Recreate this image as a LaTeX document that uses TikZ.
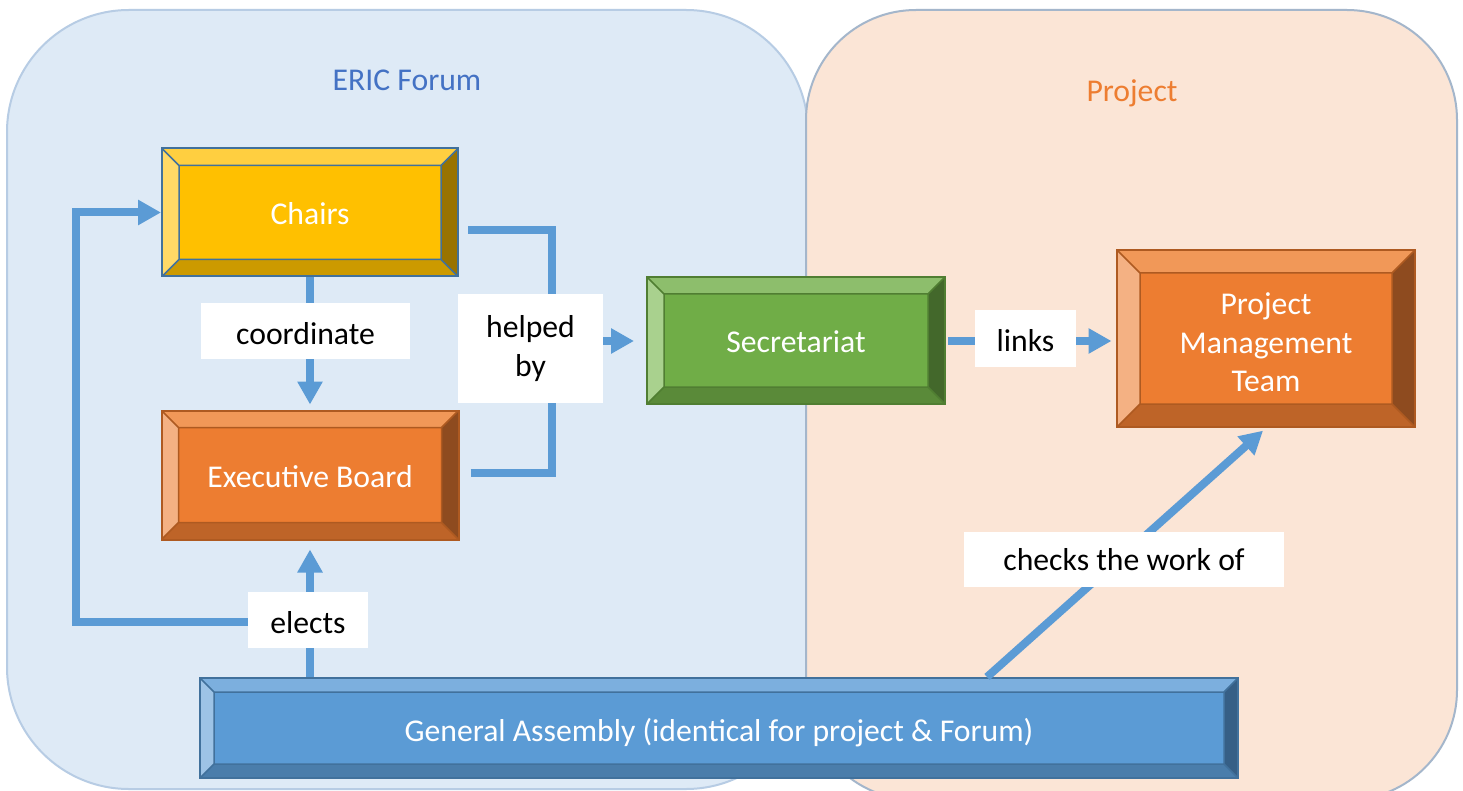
\documentclass[tikz,border=0pt]{standalone}
\usepackage{fontspec}
\setmainfont{Carlito}
\usetikzlibrary{arrows.meta,calc}
\newcommand{\lowr}[2]{\raisebox{-#1}[\height][\depth]{#2}}
\definecolor{forumfill}{HTML}{DEEAF6}
\definecolor{forumline}{HTML}{B7CCE4}
\definecolor{projfill}{HTML}{FBE5D6}
\definecolor{projline}{HTML}{A4B6CB}
\definecolor{ericblue}{HTML}{4472C4}
\definecolor{projorange}{HTML}{ED7D31}
\definecolor{connblue}{HTML}{5B9BD5}
% chairs (gold)
\definecolor{goMain}{HTML}{FFC000}
\definecolor{goTop}{HTML}{FFCF40}
\definecolor{goLeft}{HTML}{FFD966}
\definecolor{goBot}{HTML}{CC9A00}
\definecolor{goRight}{HTML}{997300}
\definecolor{goLine}{HTML}{41719C}
% orange
\definecolor{orMain}{HTML}{ED7D31}
\definecolor{orTop}{HTML}{F19858}
\definecolor{orLeft}{HTML}{F4B183}
\definecolor{orBot}{HTML}{BE6428}
\definecolor{orRight}{HTML}{8E4B1F}
\definecolor{orLine}{HTML}{AE5A21}
% green
\definecolor{grMain}{HTML}{70AD47}
\definecolor{grTop}{HTML}{8DBE6C}
\definecolor{grLeft}{HTML}{A9D18E}
\definecolor{grBot}{HTML}{5A8A39}
\definecolor{grRight}{HTML}{43682B}
\definecolor{grLine}{HTML}{507E32}
% blue
\definecolor{blMain}{HTML}{5B9BD5}
\definecolor{blTop}{HTML}{7CAFDE}
\definecolor{blLeft}{HTML}{9DC3E6}
\definecolor{blBot}{HTML}{4A7DAB}
\definecolor{blRight}{HTML}{365F86}
\definecolor{blLine}{HTML}{41719C}
\tikzset{
  bevelbox/.style n args={7}{% 1 bevel, 2 top, 3 left, 4 bottom, 5 right, 6 main, 7 border
    rectangle, fill=#6, draw=#7, line width=2pt, inner sep=0pt,
    text=white,
    path picture={
      \path (path picture bounding box.north west) coordinate (bvA)
            (path picture bounding box.north east) coordinate (bvB)
            (path picture bounding box.south east) coordinate (bvC)
            (path picture bounding box.south west) coordinate (bvD);
      \path (bvA) ++(#1pt,-#1pt) coordinate (bva)
            (bvB) ++(-#1pt,-#1pt) coordinate (bvb)
            (bvC) ++(-#1pt,#1pt) coordinate (bvc)
            (bvD) ++(#1pt,#1pt) coordinate (bvd);
      \fill[#2] (bvA)--(bvB)--(bvb)--(bva)--cycle;
      \fill[#3] (bvA)--(bva)--(bvd)--(bvD)--cycle;
      \fill[#4] (bvD)--(bvd)--(bvc)--(bvC)--cycle;
      \fill[#5] (bvB)--(bvC)--(bvc)--(bvb)--cycle;
      \draw[#7, line width=1.5pt] (bva)--(bvb)--(bvc)--(bvd)--cycle
            (bvA)--(bva) (bvB)--(bvb) (bvC)--(bvc) (bvD)--(bvd);
    }
  },
  conn/.style={draw=connblue, line width=8pt},
  arrowtip/.style={-{Triangle[length=23pt,width=24pt]}},
  lbl/.style={fill=white, text=black, inner sep=0pt},
}
\begin{document}
\begin{tikzpicture}[x=1pt,y=-1pt,font=\fontsize{31.7}{38.5}\selectfont]
\useasboundingbox (0,0) rectangle (1463,791);
\fill[white] (0,0) rectangle (1463,791);
% regions
\draw[line width=2pt, draw=forumline, fill=forumfill, rounded corners=122pt] (7,10) rectangle (808,789);
\draw[line width=2pt, draw=projline, fill=projfill, rounded corners=110pt] (806,10) rectangle (1457,800);
\node[text=ericblue] (forumtitle) at (407,80) {ERIC Forum};
\node[text=projorange] (projtitle) at (1132,92) {\lowr{1.5pt}{Project}};
% boxes
\node[bevelbox={17}{goTop}{goLeft}{goBot}{goRight}{goMain}{goLine}, minimum width=296pt, minimum height=128pt] (chairs) at (310,212.5) {\lowr{1.5pt}{Chairs}};
\node[bevelbox={17}{orTop}{orLeft}{orBot}{orRight}{orMain}{orLine}, minimum width=297pt, minimum height=129pt] (eb) at (310,475) {\lowr{2pt}{Executive Board}};
\node[bevelbox={17}{grTop}{grLeft}{grBot}{grRight}{grMain}{grLine}, minimum width=298pt, minimum height=127pt] (sec) at (796,340.5) {\lowr{1.5pt}{Secretariat}};
\node[bevelbox={23}{orTop}{orLeft}{orBot}{orRight}{orMain}{orLine}, minimum width=298pt, minimum height=177pt] (pmt) at (1266,338.5) {\lowr{7pt}{\begin{tabular}{@{}c@{}}Project\\Management\\Team\end{tabular}}};
\node[bevelbox={14}{blTop}{blLeft}{blBot}{blRight}{blMain}{blLine}, minimum width=1038pt, minimum height=100pt] (ga) at (719,728) {\lowr{5pt}{General Assembly (identical for project \& Forum)}};
% connectors
\draw[conn, arrowtip, shorten >=5pt] (chairs.south) -- (eb.north);
\draw[conn, arrowtip, shorten >=9pt] (ga.north -| eb.south) -- (eb.south);
\draw[conn, arrowtip] (ga.north -| eb.south) -- ++(0,-55) -| ([xshift=-85pt]chairs.west) -- (chairs.west);
\coordinate (hjoin) at (552,341);
\draw[conn] ([shift={(9pt,-17.5pt)}]chairs.east) -| (hjoin);
\draw[conn] ([shift={(11pt,2pt)}]eb.east) -| (hjoin);
\draw[conn, arrowtip, shorten >=12pt] (hjoin) -- (hjoin -| sec.west);
\draw[conn, arrowtip, shorten <=2pt, shorten >=4.5pt] ([yshift=-0.5pt]sec.east) -- ([yshift=-0.5pt]sec.east -| pmt.west);
\draw[conn, arrowtip, shorten >=4pt] ([xshift=268pt]ga.north) -- (pmt.south);
% labels
\node[lbl, minimum width=209pt, minimum height=56pt] (lcoord) at (305.5,331) {\lowr{3pt}{coordinate}};
\node[lbl, align=center, minimum width=145pt, minimum height=109pt] (lhelp) at (530.5,348.5) {helped\\by};
\node[lbl, minimum width=101pt, minimum height=57pt] (llinks) at (1025.5,338.5) {\lowr{2.5pt}{links}};
\node[lbl, minimum width=120pt, minimum height=56pt] (lelects) at (308,620) {\lowr{3pt}{elects}};
\node[lbl, minimum width=320pt, minimum height=55pt] (lchecks) at (1124,559.5) {checks the work of};
\end{tikzpicture}
\end{document}
